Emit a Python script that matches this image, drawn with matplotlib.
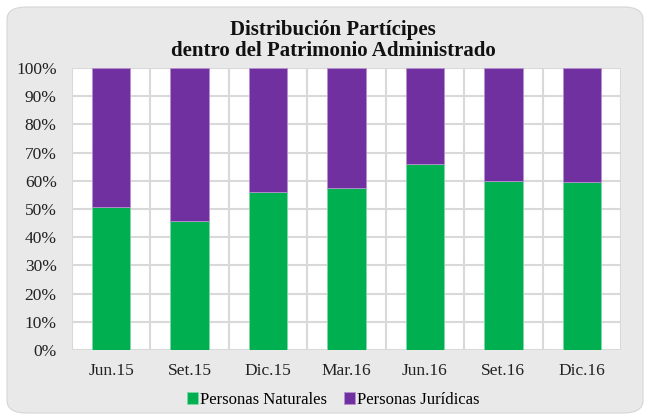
import numpy as np
import matplotlib
matplotlib.use("Agg")
from matplotlib import pyplot as plt
from matplotlib.patches import FancyBboxPatch

periods = ["Jun.15", "Set.15", "Dic.15", "Mar.16", "Jun.16", "Set.16", "Dic.16"]
naturales = [50.8, 45.8, 56.1, 57.3, 65.8, 60.0, 59.5]
juridicas = [100 - v for v in naturales]

plt.rcParams['font.family'] = ['Liberation Serif', 'DejaVu Serif']

fig = plt.figure(figsize=(6.49, 4.19), dpi=100)
fig.patch.set_facecolor("white")

# rounded grey chart background
bg = FancyBboxPatch((7 / 649, 6 / 419), 636 / 649, 406 / 419,
                    boxstyle="round,pad=0,rounding_size=0.03",
                    transform=fig.transFigure, facecolor="#E9E9E9",
                    edgecolor="#D6D6D6", linewidth=0.8, zorder=-5)
fig.patches.append(bg)

ax = fig.add_axes([72 / 649, 1 - 350 / 419, 549 / 649, 282 / 419])
ax.set_facecolor("white")

x = np.arange(len(periods))
ax.bar(x, naturales, width=0.49, color="#00B050", edgecolor="#7FD8A7",
       linewidth=0.6, label="Personas Naturales", zorder=3)
ax.bar(x, juridicas, width=0.49, bottom=naturales, color="#7030A0",
       edgecolor="#B890D0", linewidth=0.6, label="Personas Jurídicas", zorder=3)

ax.set_xlim(-0.5, len(periods) - 0.5)
ax.set_ylim(0, 100)
ax.set_yticks(np.arange(0, 101, 10))
ax.set_yticklabels([f"{v}%" for v in range(0, 101, 10)])
ax.set_xticks(x)
ax.set_xticklabels(periods)
ax.set_xticks(np.arange(-0.5, len(periods), 1), minor=True)

ax.grid(True, which="major", axis="y", color="#D9D9D9", linewidth=1.5, zorder=0)
ax.grid(True, which="minor", axis="x", color="#D9D9D9", linewidth=1.5, zorder=0)
ax.set_axisbelow(True)
ax.tick_params(which="both", length=0)
ax.tick_params(axis="y", labelsize=12.5, colors="#222222", pad=11)
ax.tick_params(axis="x", labelsize=12.5, colors="#222222", pad=9)
for s in ax.spines.values():
    s.set_visible(False)

fig.text(333 / 649, 1 - 30 / 419, "Distribución Partícipes", ha="center",
         va="center", fontsize=15, fontweight="bold", color="#111111")
fig.text(333 / 649, 1 - 51 / 419, "dentro del Patrimonio Administrado", ha="center",
         va="center", fontsize=15, fontweight="bold", color="#111111")

fig.legend(loc="center", bbox_to_anchor=(333 / 649, 1 - 400 / 419), ncol=2,
           frameon=False, fontsize=12, handlelength=0.7, handleheight=0.7,
           handletextpad=0.1, columnspacing=1.0)

fig.savefig("out.png", dpi=100)
